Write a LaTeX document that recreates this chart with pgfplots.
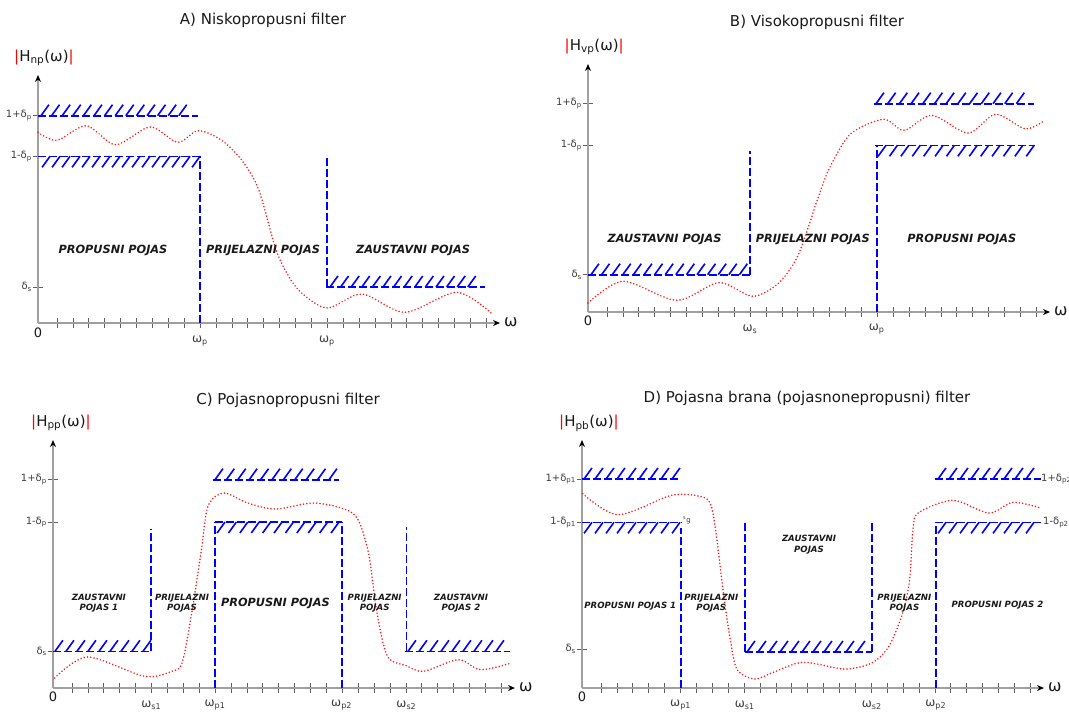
\documentclass[border=0pt]{standalone}
\usepackage{fontspec}
\setmainfont{DejaVu Sans}[ItalicFont={DejaVu Sans Oblique}, BoldFont={DejaVu Sans Bold}, BoldItalicFont={DejaVu Sans Bold Oblique}]
\usepackage{pgfplots}
\pgfplotsset{compat=1.18}
\usetikzlibrary{arrows.meta}

\definecolor{bandblue}{RGB}{0,0,255}
\definecolor{curvered}{RGB}{255,20,20}
\definecolor{axgray}{RGB}{160,160,160}
\definecolor{tickgray}{RGB}{95,95,95}
\definecolor{txt}{RGB}{25,25,25}
\definecolor{ticktxt}{RGB}{60,60,60}

\tikzset{
  band/.style={bandblue, line width=1.6pt, dash pattern=on 8pt off 3pt},
  vband/.style={bandblue, line width=1.8pt, dash pattern=on 8pt off 3pt},
  hs/.style={bandblue, line width=1.6pt},
  resp/.style={curvered, line width=1.7pt, line cap=round, dash pattern=on 0pt off 3.3pt, smooth},
  reg/.style={font=\fontsize{11.3}{12}\selectfont\bfseries\itshape, text=txt, align=center},
  regs/.style={font=\fontsize{8.6}{10.7}\selectfont\bfseries\itshape, text=txt, align=center},
  ttl/.style={font=\fontsize{15}{15}\selectfont, text=txt},
  ylab/.style={font=\fontsize{15}{15}\selectfont, text=txt, anchor=west, inner sep=0pt},
  wlab/.style={font=\fontsize{12}{12}\selectfont, text=ticktxt},
  zero/.style={font=\fontsize{13}{13}\selectfont, text=txt},
  omg/.style={font=\fontsize{16}{16}\selectfont, text=txt, anchor=west, inner sep=0pt},
}

% #1 first x, #2 second x, #3 last x, #4 y level, #5 stroke height (signed)
\newcommand{\hatch}[5]{\pgfplotsextra{\foreach \xx in {#1,#2,...,#3}{\draw[hs] (axis cs:\xx,#4) -- ++({0.72*(#5)*1pt},{(#5)*1pt});}}}

\pgfplotsset{filt/.style={
  x=1pt, y=1pt, xmin=0, xmax=462, ymin=0, ymax=248,
  axis x line=bottom, axis y line=left,
  axis line style={draw=axgray, line width=1.3pt, -{Stealth[black,length=7pt,width=6pt]}},
  clip=false, anchor=south west,
  xtick={19,34.9,...,449}, xticklabels={},
  tick style={draw=tickgray, line width=0.8pt},
  major tick length=10pt, tick align=center,
  yticklabel style={font=\fontsize{10}{12}\selectfont, text=ticktxt, anchor=east, inner sep=1pt},
}}

\begin{document}
\begin{tikzpicture}
\path[use as bounding box] (0,0) rectangle (1069pt,-713pt);

\node[ttl] at (263pt,-20pt) {A) Niskopropusni filter};
\node[ttl] at (817pt,-22pt) {B) Visokopropusni filter};
\node[ttl] at (288pt,-400pt) {C) Pojasnopropusni filter};
\node[ttl] at (807pt,-398pt) {D) Pojasna brana (pojasnonepropusni) filter};

% ---------------- A ----------------
\begin{axis}[filt, at={(38pt,-323pt)},
  ytick={207.3,166.7,36}, yticklabels={1+δ\textsubscript{p},1-δ\textsubscript{p},δ\textsubscript{s}}]
\addplot[band] coordinates {(0,207.3) (160,207.3)};
\addplot[band] coordinates {(0,166.7) (162,166.7)};
\addplot[vband] coordinates {(162,0) (162,166.7)};
\addplot[vband] coordinates {(289,36) (289,168)};
\addplot[band] coordinates {(288,36) (446.5,36)};
\hatch{3}{13.6}{150}{207.3}{11}
\hatch{12}{22}{162}{166.7}{-11}
\hatch{292}{302.6}{440}{36}{11}
\addplot[resp] coordinates {(0,190.7) (19,182.7) (48.3,197.3) (77.6,178.3) (112,196) (139.7,180.7) (160,192.3) (182.8,183.3) (203.4,163.3) (220.7,133.3) (238,73.3) (251.7,45) (265.5,28.3) (289.7,15) (324,29) (367,10.7) (419,30.7) (455,8.3)};
\node[reg] at (axis cs:75,72.7) {PROPUSNI POJAS};
\node[reg] at (axis cs:225,72.7) {PRIJELAZNI POJAS};
\node[reg] at (axis cs:375,72.7) {ZAUSTAVNI POJAS};
\node[ylab] at (axis cs:-24,265) {\textcolor{red}{|}H\textsubscript{np}(ω)\textcolor{red}{|}};
\node[zero] at (axis cs:0,-10) {0};
\node[omg] at (axis cs:466,1) {ω};
\node[wlab] at (axis cs:162,-18) {ω\textsubscript{p}};
\node[wlab] at (axis cs:289,-18) {ω\textsubscript{p}};
\end{axis}

% ---------------- B ----------------
\begin{axis}[filt, at={(588pt,-312pt)},
  ytick={208.3,166.7,37.3}, yticklabels={1+δ\textsubscript{p},1-δ\textsubscript{p},δ\textsubscript{s}}]
\addplot[band] coordinates {(0,37.3) (162,37.3)};
\addplot[vband] coordinates {(162,37.3) (162,161)};
\addplot[band] coordinates {(286,208.3) (445.5,208.3)};
\addplot[band] coordinates {(287,166.7) (447,166.7)};
\addplot[vband] coordinates {(288.6,0) (288.6,166.7)};
\hatch{3}{13.6}{152}{37.3}{11}
\hatch{288}{299.7}{440}{208.3}{11}
\hatch{298}{309.4}{447}{166.7}{-11}
\addplot[resp] coordinates {(0,9) (35.2,30.7) (88.6,11.7) (131,29.3) (164.5,15.7) (190,28.3) (207.6,51.7) (218,78) (230,114) (242,145) (262.8,178.3) (295.5,192.7) (316.2,181.7) (343.8,196.7) (380,179) (407.6,197.7) (437,183.3) (455.9,191)};
\node[reg] at (axis cs:76.6,72.7) {ZAUSTAVNI POJAS};
\node[reg] at (axis cs:224.8,72.7) {PRIJELAZNI POJAS};
\node[reg] at (axis cs:373.8,72.7) {PROPUSNI POJAS};
\node[ylab] at (axis cs:-23.5,265) {\textcolor{red}{|}H\textsubscript{vp}(ω)\textcolor{red}{|}};
\node[zero] at (axis cs:0,-9) {0};
\node[omg] at (axis cs:466,1) {ω};
\node[wlab] at (axis cs:162,-17) {ω\textsubscript{s}};
\node[wlab] at (axis cs:288.6,-17) {ω\textsubscript{p}};
\end{axis}

% ---------------- C ----------------
\begin{axis}[filt, at={(53pt,-688pt)},
  ytick={208.3,166,36.7}, yticklabels={1+δ\textsubscript{p},1-δ\textsubscript{p},δ\textsubscript{s}}]
\addplot[band] coordinates {(0,36.7) (98.3,36.7)};
\addplot[vband] coordinates {(98.3,36.7) (98.3,159.3)};
\addplot[band] coordinates {(160.3,208.3) (286.2,208.3)};
\addplot[band] coordinates {(162,166) (288.6,166)};
\addplot[vband] coordinates {(162,0) (162,166)};
\addplot[vband] coordinates {(288.6,0) (288.6,166)};
\addplot[vband] coordinates {(353.4,36.7) (353.4,161)};
\addplot[band] coordinates {(351.7,36.7) (457,36.7)};
\hatch{2}{13}{91}{36.7}{11}
\hatch{162}{173.4}{280}{208.3}{11}
\hatch{172}{183.4}{288}{166}{-11}
\hatch{355}{366}{450}{36.7}{11}
\addplot[resp] coordinates {(1.7,10) (34.5,31) (91.4,11.7) (119,16.7) (129,25) (137.6,68.3) (148,135) (155,181.7) (170.7,195) (194.8,185) (222.4,179) (260.3,185) (291.4,179) (305,168.3) (315.5,135) (324,75) (334.5,31.7) (353.4,22.3) (370.7,16.7) (405.2,28.3) (427.6,18.3) (458.6,25)};
\node[regs] at (axis cs:45.9,84.7) {ZAUSTAVNI\\POJAS 1};
\node[regs] at (axis cs:129,84.7) {PRIJELAZNI\\POJAS};
\node[reg] at (axis cs:222.4,85) {PROPUSNI POJAS};
\node[regs] at (axis cs:321.7,84.7) {PRIJELAZNI\\POJAS};
\node[regs] at (axis cs:408,84.7) {ZAUSTAVNI\\POJAS 2};
\node[ylab] at (axis cs:-22,265) {\textcolor{red}{|}H\textsubscript{pp}(ω)\textcolor{red}{|}};
\node[zero] at (axis cs:0,-9) {0};
\node[omg] at (axis cs:466,1) {ω};
\node[wlab] at (axis cs:98.3,-17) {ω\textsubscript{s1}};
\node[wlab] at (axis cs:162,-17) {ω\textsubscript{p1}};
\node[wlab] at (axis cs:288.6,-17) {ω\textsubscript{p2}};
\node[wlab] at (axis cs:353.4,-17) {ω\textsubscript{s2}};
\end{axis}

% ---------------- D ----------------
\begin{axis}[filt, at={(582pt,-688pt)},
  ytick={209,165.7,39}, yticklabels={1+δ\textsubscript{p1},1-δ\textsubscript{p1},δ\textsubscript{s}}]
\addplot[band] coordinates {(0,209) (98.3,209)};
\addplot[band] coordinates {(0,165.7) (100,165.7)};
\addplot[vband] coordinates {(98.6,0) (98.6,160)};
\addplot[vband] coordinates {(162.8,36) (162.8,165.7)};
\addplot[vband] coordinates {(289.7,36) (289.7,165.7)};
\addplot[band] coordinates {(162.8,36) (289.7,36)};
\addplot[vband] coordinates {(353.8,0) (353.8,165.7)};
\addplot[band] coordinates {(353.4,209) (458.6,209)};
\addplot[band] coordinates {(353.4,165.7) (458.6,165.7)};
\hatch{2}{13}{92}{209}{11}
\hatch{10}{21}{98}{165.7}{-11}
\hatch{165}{176}{282}{36}{11}
\hatch{356}{367}{452}{209}{11}
\hatch{364}{375}{458}{165.7}{-11}
\addplot[resp] coordinates {(0.7,194.3) (36.2,173.3) (89.7,192.7) (120.7,191) (129.3,181.7) (134.5,151.7) (141.4,95) (148.3,48.3) (155.2,18.3) (172.4,9) (189.7,15) (220.7,25.7) (262,19) (289.7,25) (306.9,41.7) (320.7,75) (327.6,108.3) (331,158.3) (336.2,175) (370.7,187.7) (406.9,175) (431,185.7) (458.6,180)};
\node[regs] at (axis cs:48.3,81.7) {PROPUSNI POJAS 1};
\node[regs] at (axis cs:129.3,84.7) {PRIJELAZNI\\POJAS};
\node[regs] at (axis cs:227,143) {ZAUSTAVNI\\POJAS};
\node[regs] at (axis cs:322.4,84.7) {PRIJELAZNI\\POJAS};
\node[regs] at (axis cs:415.5,82.7) {PROPUSNI POJAS 2};
\node[ylab] at (axis cs:-23,265) {\textcolor{red}{|}H\textsubscript{pb}(ω)\textcolor{red}{|}};
\node[zero] at (axis cs:0,-9) {0};
\node[omg] at (axis cs:466,1) {ω};
\node[wlab] at (axis cs:98.6,-17) {ω\textsubscript{p1}};
\node[wlab] at (axis cs:162.8,-17) {ω\textsubscript{s1}};
\node[wlab] at (axis cs:289.7,-17) {ω\textsubscript{s2}};
\node[wlab] at (axis cs:353.8,-17) {ω\textsubscript{p2}};
\node[font=\fontsize{10}{12}\selectfont, text=ticktxt, anchor=west, inner sep=0pt] at (axis cs:459,209) {1+δ\textsubscript{p2}};
\node[font=\fontsize{10}{12}\selectfont, text=ticktxt, anchor=west, inner sep=0pt] at (axis cs:461,165.7) {1-δ\textsubscript{p2}};
\node[font=\fontsize{7}{7}\selectfont, text=ticktxt, anchor=west, inner sep=0pt] at (axis cs:101,168) {\textsuperscript{s}g};
\end{axis}
\end{tikzpicture}
\end{document}
